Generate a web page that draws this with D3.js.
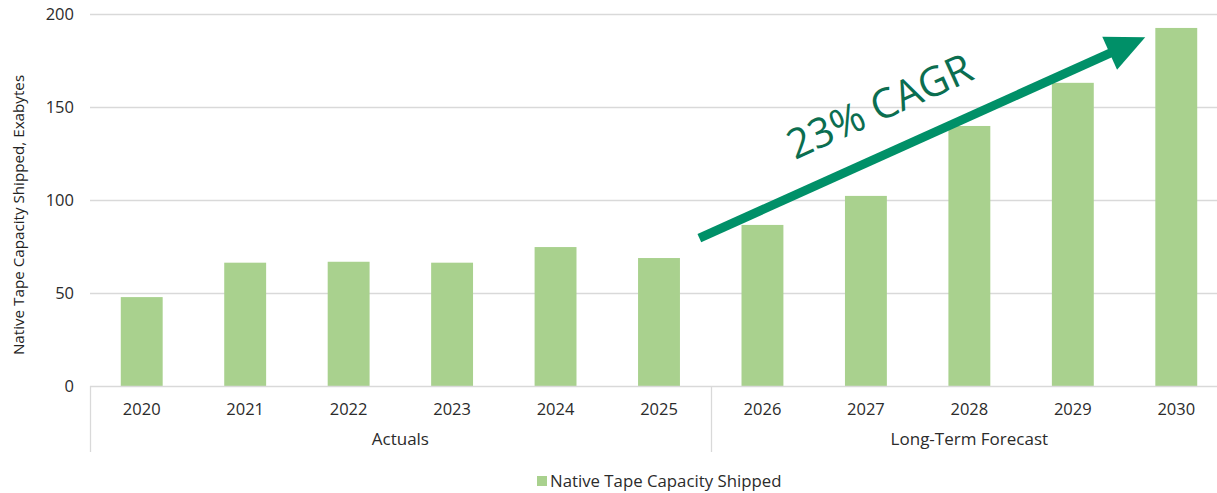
<!DOCTYPE html>
<html>
<head>
<meta charset="utf-8">
<script src="https://cdn.jsdelivr.net/npm/d3@7"></script>
<style>
  body { margin: 0; background: #fff; }
  svg { display: block; font-family: "Open Sans", Lato, sans-serif; }
</style>
</head>
<body>
<div id="chart"></div>
<script>
// Datos
const years = ["2020", "2021", "2022", "2023", "2024", "2025", "2026", "2027", "2028", "2029", "2030"];
const shipped = [47.8, 66.3, 66.8, 66.3, 74.7, 68.8, 86.6, 102.2, 139.8, 163.0, 192.5];
const groups = [
    { name: "Actuals", from: "2020", to: "2025" },
    { name: "Long-Term Forecast", from: "2026", to: "2030" }
];
const yTicks = [0, 50, 100, 150, 200];
const seriesName = "Native Tape Capacity Shipped";
const yTitle = "Native Tape Capacity Shipped, Exabytes";
const cagrLabel = "23% CAGR";
// flecha: [categoria, desplazamiento en bandas, valor]
const arrowFrom = ["2025", 0.39, 79.5];
const arrowTo = ["2030", -0.30, 187.5];

const W = 1217, H = 493;
const margin = { top: 14, left: 90, bottom: 107 };
const plotBottom = H - margin.bottom;

const svg = d3.select("#chart").append("svg")
    .attr("width", W)
    .attr("height", H);

const x = d3.scaleBand()
    .domain(years)
    .range([margin.left, 1228])
    .paddingInner(0.595)
    .paddingOuter(0.2975);
const step = x.step();

const y = d3.scaleLinear()
    .domain([0, 200])
    .range([plotBottom, margin.top]);

// lineas de la cuadricula
svg.append("g")
    .selectAll("line")
    .data(yTicks.filter(d => d > 0))
    .enter().append("line")
    .attr("x1", margin.left)
    .attr("x2", W)
    .attr("y1", d => Math.round(y(d)) + 0.5)
    .attr("y2", d => Math.round(y(d)) + 0.5)
    .attr("stroke", "#d9d9d9")
    .attr("stroke-width", 1.3);

// etiquetas del eje y
svg.append("g")
    .selectAll("text")
    .data(yTicks)
    .enter().append("text")
    .attr("x", 74)
    .attr("y", d => y(d))
    .attr("dy", "0.36em")
    .attr("text-anchor", "end")
    .attr("font-size", 16.5)
    .attr("fill", "#2b2b2b")
    .text(d => d);

// titulo del eje y
svg.append("text")
    .attr("transform", `translate(24,${(margin.top + plotBottom) / 2 + 15}) rotate(-90)`)
    .attr("text-anchor", "middle")
    .attr("font-size", 15.2)
    .attr("fill", "#222")
    .text(yTitle);

// barras
svg.append("g")
    .selectAll("rect")
    .data(years.map((d, i) => ({ year: d, value: shipped[i] })))
    .enter().append("rect")
    .attr("x", d => x(d.year))
    .attr("y", d => y(d.value))
    .attr("width", x.bandwidth())
    .attr("height", d => plotBottom - y(d.value))
    .attr("fill", "#a9d18e");

// eje de categorias (linea base y separadores)
svg.append("line")
    .attr("x1", margin.left)
    .attr("x2", W)
    .attr("y1", plotBottom + 0.5)
    .attr("y2", plotBottom + 0.5)
    .attr("stroke", "#d9d9d9")
    .attr("stroke-width", 1.3);

const groupEdges = [x(groups[0].from) - step * x.paddingOuter()]
    .concat(groups.map(g => x(g.to) + x.bandwidth() + (step - x.bandwidth()) / 2));
svg.append("g")
    .selectAll("line")
    .data(groupEdges)
    .enter().append("line")
    .attr("x1", d => Math.round(d) + 0.5)
    .attr("x2", d => Math.round(d) + 0.5)
    .attr("y1", plotBottom)
    .attr("y2", 452)
    .attr("stroke", "#d9d9d9")
    .attr("stroke-width", 1.3);

svg.append("g")
    .selectAll("text")
    .data(years)
    .enter().append("text")
    .attr("x", d => x(d) + x.bandwidth() / 2)
    .attr("y", 409)
    .attr("dy", "0.36em")
    .attr("text-anchor", "middle")
    .attr("font-size", 16.5)
    .attr("fill", "#2b2b2b")
    .text(d => d);

svg.append("g")
    .selectAll("text")
    .data(groups)
    .enter().append("text")
    .attr("x", g => (x(g.from) + x(g.to) + x.bandwidth()) / 2)
    .attr("y", 439)
    .attr("dy", "0.36em")
    .attr("text-anchor", "middle")
    .attr("font-size", 17)
    .attr("fill", "#2b2b2b")
    .text(g => g.name);

// leyenda
const legend = svg.append("g").attr("transform", "translate(537,481)");
legend.append("rect")
    .attr("x", 0).attr("y", -5)
    .attr("width", 10).attr("height", 10)
    .attr("fill", "#a9d18e");
legend.append("text")
    .attr("x", 13)
    .attr("dy", "0.36em")
    .attr("font-size", 16.8)
    .attr("fill", "#2b2b2b")
    .text(seriesName);

// flecha CAGR
const ax = a => x(a[0]) + x.bandwidth() / 2 + a[1] * step;
const x0 = ax(arrowFrom), y0 = y(arrowFrom[2]);
const x1 = ax(arrowTo), y1 = y(arrowTo[2]);
const ang = Math.atan2(y1 - y0, x1 - x0);
const len = Math.hypot(x1 - x0, y1 - y0);
const green = "#009068";
const arrow = svg.append("g")
    .attr("transform", `translate(${x0},${y0}) rotate(${ang * 180 / Math.PI})`);
arrow.append("line")
    .attr("x1", 0).attr("y1", 0)
    .attr("x2", len - 30).attr("y2", 0)
    .attr("stroke", green)
    .attr("stroke-width", 9);
arrow.append("path")
    .attr("d", `M${len},0 L${len - 39},-18 L${len - 39},18 Z`)
    .attr("fill", green);

svg.append("text")
    .attr("transform", `translate(795,160) rotate(${ang * 180 / Math.PI})`)
    .attr("font-family", "'Open Sans', sans-serif")
    .attr("font-size", 41)
    .attr("fill", "#0b6e50")
    .text(cagrLabel);
</script>
</body>
</html>
